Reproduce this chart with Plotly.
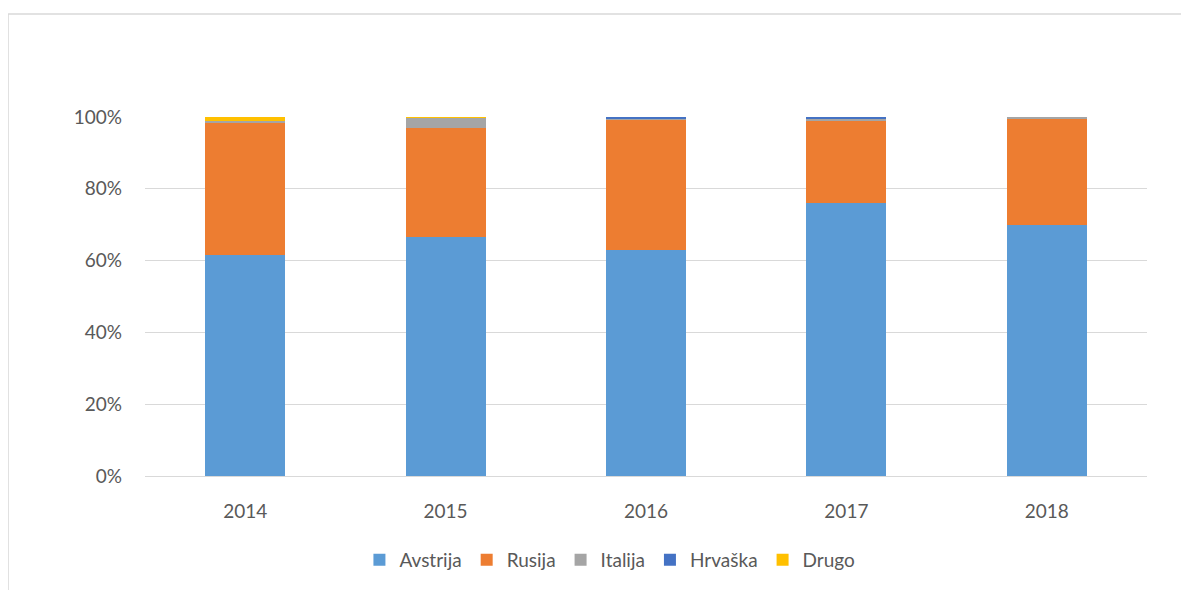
import plotly.graph_objects as go

years = ["2014", "2015", "2016", "2017", "2018"]
avstrija = [61.5, 66.6, 62.9, 76.0, 69.9]
rusija = [37.1, 30.4, 36.3, 23.0, 29.5]
italija = [0.4, 2.8, 0.4, 0.6, 0.6]
hrvaska = [0.0, 0.0, 0.4, 0.4, 0.0]
drugo = [1.0, 0.2, 0.0, 0.0, 0.0]
y_ticks = [0, 20, 40, 60, 80, 100]
y_tick_labels = ["0%", "20%", "40%", "60%", "80%", "100%"]

series = [
    ("Avstrija", avstrija, "#5B9BD5"),
    ("Rusija", rusija, "#ED7D31"),
    ("Italija", italija, "#A5A5A5"),
    ("Hrvaška", hrvaska, "#4472C4"),
    ("Drugo", drugo, "#FFC000"),
]

fig = go.Figure()
for name, vals, color in series:
    fig.add_trace(go.Bar(x=years, y=vals, name=name, marker=dict(color=color, line=dict(width=0))))

font_family = "Lato, 'Open Sans', sans-serif"
fig.update_layout(
    width=1189, height=590,
    barmode="stack", barnorm="percent", bargap=0.6,
    plot_bgcolor="white", paper_bgcolor="white",
    margin=dict(l=137, r=50, t=109, b=122),
    font=dict(family=font_family, size=19, color="#595959"),
    xaxis=dict(showline=True, linecolor="#D9D9D9", linewidth=1, ticks="",
               ticklabelstandoff=18, tickfont=dict(size=19, color="#595959")),
    yaxis=dict(range=[0, 100], tickmode="array", tickvals=y_ticks, ticktext=y_tick_labels,
               showgrid=True, gridcolor="#D9D9D9", gridwidth=1, zeroline=False,
               ticklabelstandoff=22, tickfont=dict(size=19, color="#595959")),
    legend=dict(orientation="h", x=0.464, xanchor="center", y=-0.234, yanchor="middle",
                font=dict(size=19, color="#595959"), traceorder="normal", itemwidth=30),
    showlegend=True,
    shapes=[
        dict(type="line", xref="paper", yref="paper", x0=-0.1367, x1=1.06, y0=1.2869, y1=1.2869,
             line=dict(color="#D9D9D9", width=1.5)),
        dict(type="line", xref="paper", yref="paper", x0=-0.1367, x1=-0.1367, y0=1.2869, y1=-0.35,
             line=dict(color="#D9D9D9", width=1.5)),
    ],
)

fig.write_html("out.html")
